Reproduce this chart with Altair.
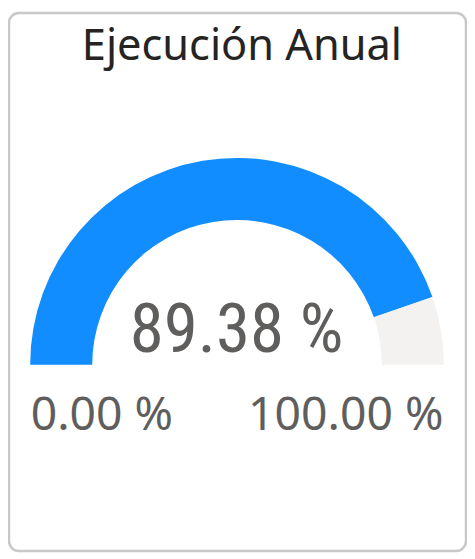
import math
import altair as alt
import pandas as pd

title = "Ejecución Anual"
value = 89.38
gauge_min = 0.0
gauge_max = 100.0
segments = ["Ejecución", "Restante"]
seg_start = [gauge_min, value]
seg_end = [value, gauge_max]
seg_colors = ["#118DFF", "#F3F2F1"]

arc_df = pd.DataFrame({"segment": segments, "start": seg_start, "end": seg_end})
theta_scale = alt.Scale(domain=[gauge_min, gauge_max], range=[-math.pi / 2, math.pi / 2])

cx, cy = 231.5, 357

arcs = alt.Chart(arc_df).mark_arc(radius=210, radius2=147).encode(
    theta=alt.Theta("start:Q", scale=theta_scale),
    theta2="end:Q",
    color=alt.Color("segment:N", scale=alt.Scale(domain=segments, range=seg_colors), legend=None),
    x=alt.value(cx),
    y=alt.value(cy),
)

def fmt(v):
    return f"{v:.2f} %"

title_df = pd.DataFrame({"t": [title]})
value_df = pd.DataFrame({"t": [fmt(value)]})
min_df = pd.DataFrame({"t": [fmt(gauge_min)]})
max_df = pd.DataFrame({"t": [fmt(gauge_max)]})

title_mark = alt.Chart(title_df).mark_text(
    font="Noto Sans", fontSize=44, color="#252423", align="center", baseline="alphabetic"
).encode(text="t:N", x=alt.value(236.5), y=alt.value(48))

value_mark = alt.Chart(value_df).mark_text(
    font="Liberation Sans Narrow, Roboto Condensed, Roboto", fontSize=70, color="#605E5C",
    align="center", baseline="alphabetic"
).encode(text="t:N", x=alt.value(231), y=alt.value(344))

min_mark = alt.Chart(min_df).mark_text(
    font="Noto Sans", fontSize=47, color="#605E5C", align="left", baseline="alphabetic"
).encode(text="t:N", x=alt.value(22), y=alt.value(423))

max_mark = alt.Chart(max_df).mark_text(
    font="Noto Sans", fontSize=47, color="#605E5C", align="right", baseline="alphabetic"
).encode(text="t:N", x=alt.value(441), y=alt.value(423))

chart = alt.layer(arcs, title_mark, value_mark, min_mark, max_mark).properties(
    width=464, height=546,
    padding={"left": 1, "top": 1, "right": 1, "bottom": 1},
    autosize=alt.AutoSizeParams(type="none"),
    background="white",
).configure_view(stroke="#C8C8C8", strokeWidth=2.5, cornerRadius=10)

chart.save("out.html", embed_options={"renderer": "svg", "actions": False})
